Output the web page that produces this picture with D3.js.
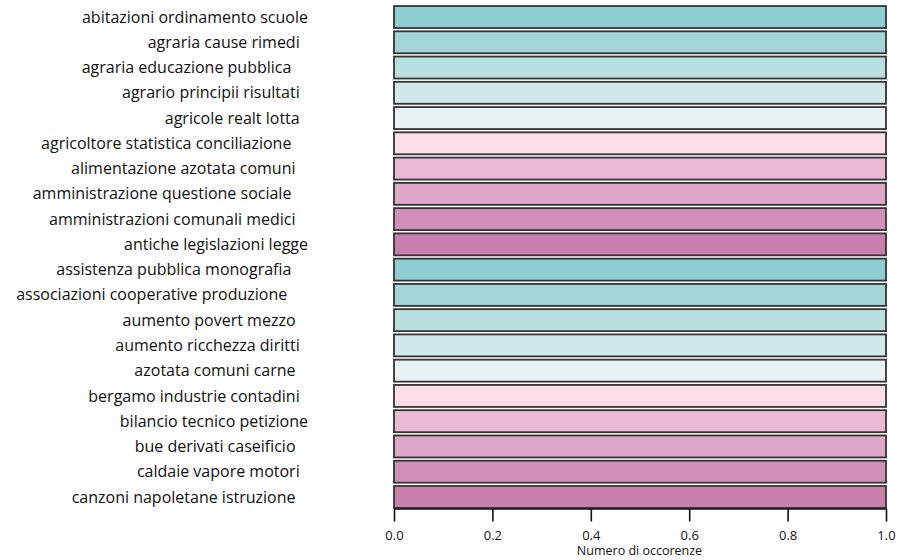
<!DOCTYPE html>
<html><head><meta charset="utf-8">
<script src="https://cdn.jsdelivr.net/npm/d3@7"></script>
<style>
body{margin:0;background:#fff;}
text{font-family:"Open Sans",sans-serif;fill:#111;white-space:pre;}
</style></head>
<body><svg id="chart" width="913" height="560"></svg>
<script>
const categories = [
  "abitazioni ordinamento scuole",
  "agraria cause rimedi  ",
  "agraria educazione pubblica    ",
  "agrario principii risultati  ",
  "agricole realt lotta  ",
  "agricoltore statistica conciliazione    ",
  "alimentazione azotata comuni   ",
  "amministrazione questione sociale    ",
  "amministrazioni comunali medici   ",
  "antiche legislazioni legge",
  "assistenza pubblica monografia    ",
  "associazioni cooperative produzione     ",
  "aumento povert mezzo   ",
  "aumento ricchezza diritti  ",
  "azotata comuni carne   ",
  "bergamo industrie contadini  ",
  "bilancio tecnico petizione",
  "bue derivati caseificio   ",
  "caldaie vapore motori  ",
  "canzoni napoletane istruzione   "
];
const values = [1,1,1,1,1,1,1,1,1,1,1,1,1,1,1,1,1,1,1,1];
const palette = ["#8ecdd1","#a3d5d8","#b9dfe0","#d2e9ec","#e6f2f4","#fcdde8","#ecbad4","#dea6c8","#d28fba","#c97fae"];
const xTicks = [0,0.2,0.4,0.6,0.8,1.0];
const xTitle = "Numero di occorenze";

const svg = d3.select("#chart");
const x = d3.scaleLinear().domain([0,1]).range([394,886]);
const y = d3.scaleBand().domain(d3.range(categories.length)).range([4.4,509.6]).paddingInner(0.13).paddingOuter(0.065);

svg.append("g").selectAll("rect").data(values).join("rect")
  .attr("x", x(0))
  .attr("y", (d,i)=>y(i))
  .attr("width", d=>x(d)-x(0))
  .attr("height", y.bandwidth())
  .attr("fill", (d,i)=>palette[i%palette.length])
  .attr("stroke", "#333")
  .attr("stroke-width", 1.8);

svg.append("g").selectAll("text").data(categories).join("text")
  .attr("x", 308)
  .attr("y", (d,i)=>y(i)+y.bandwidth()/2)
  .attr("dy","0.35em")
  .attr("text-anchor","end")
  .attr("font-size", "16px")
  .text(d=>d);

const axis = d3.axisBottom(x).tickValues(xTicks).tickFormat(d3.format(".1f")).tickSize(13).tickSizeOuter(0);
const ag = svg.append("g").attr("transform","translate(0,508.5)").call(axis);
ag.select(".domain").attr("stroke","#111").attr("stroke-width",1.6);
ag.selectAll(".tick line").attr("stroke","#111").attr("stroke-width",1.6);
ag.selectAll(".tick text").attr("font-size","13px").attr("font-family","'Open Sans',sans-serif").attr("fill","#111").attr("y",22);

svg.append("text").attr("x", x(0.5)-0.5).attr("y", 555).attr("text-anchor","middle").attr("font-size","12.5px").text(xTitle);
</script></body></html>
